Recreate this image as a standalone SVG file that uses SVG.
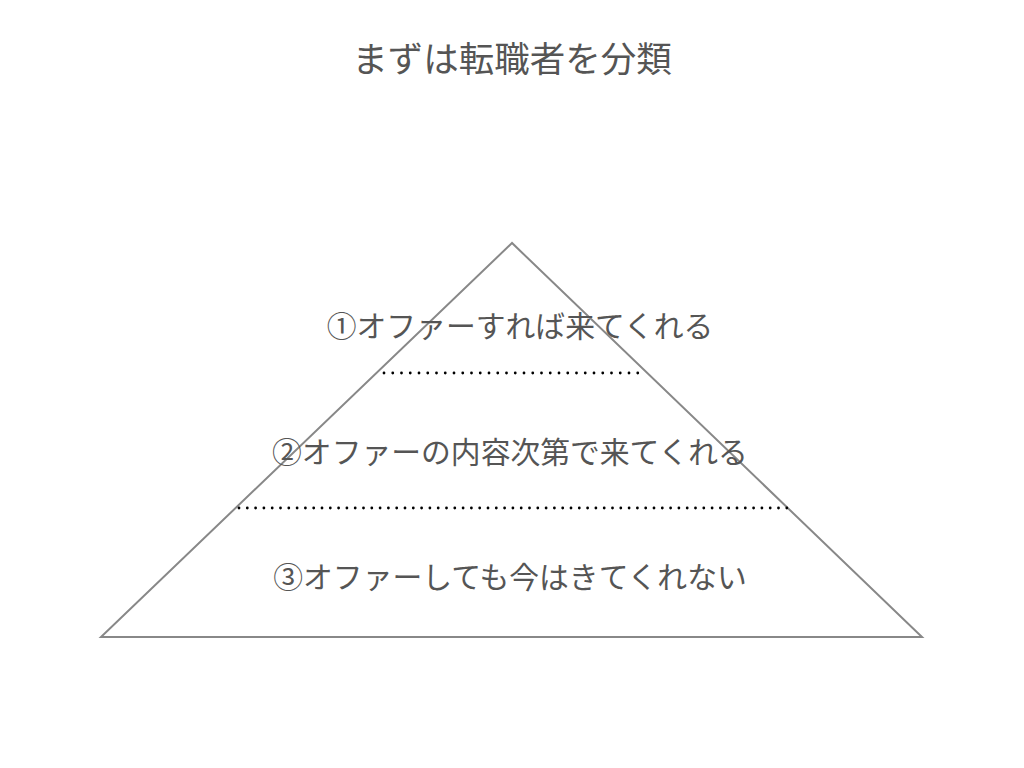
<svg xmlns="http://www.w3.org/2000/svg" width="1024" height="768" viewBox="0 0 1024 768">
<style>
.t{font-family:"Noto Sans CJK JP","Noto Sans CJK SC",sans-serif;fill:#555;text-anchor:middle}
.dot{stroke:#000;stroke-width:2.8;stroke-linecap:round;fill:none}
</style>
<rect width="1024" height="768" fill="#fff"/>
<text class="t" x="512" y="72" font-size="35.5">まずは転職者を分類</text>
<g id="pyramid">
<polygon points="512,243 101,637 922,637" fill="#fff" stroke="#888" stroke-width="2"/>
</g>
<g id="connectors">
<line class="dot" x1="384" y1="373" x2="646" y2="373" stroke-dasharray="0 8.75"/>
<line class="dot" x1="239" y1="508" x2="790" y2="508" stroke-dasharray="0 8.3"/>
</g>
<g id="level1"><text class="t" x="520" y="337" font-size="29.8">①オファーすれば来てくれる</text></g>
<g id="level2"><text class="t" x="510" y="463" font-size="29.8">②オファーの内容次第で来てくれる</text></g>
<g id="level3"><text class="t" x="510" y="588" font-size="29.8">③オファーしても今はきてくれない</text></g>
</svg>
